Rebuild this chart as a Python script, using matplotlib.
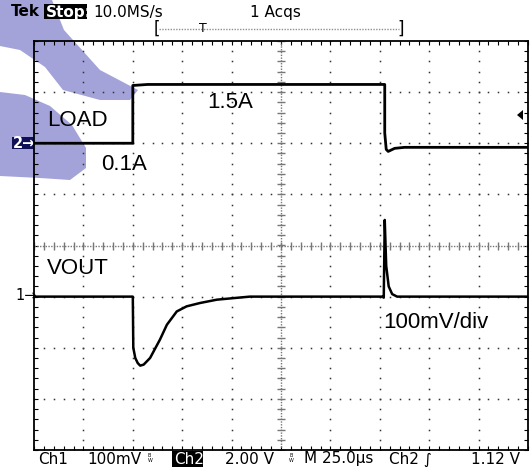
import numpy as np
import matplotlib.pyplot as plt
from matplotlib.patches import Polygon, Rectangle

W, H = 530, 469

# traces, in divisions (10 x 8, vertical centre = 0)
load_t = [0.0, 2.0, 2.0, 2.3, 7.1, 7.1, 7.13, 7.17, 7.3, 7.5, 10.0]
load_y = [2.0, 2.0, 3.13, 3.15, 3.15, 2.2, 1.88, 1.84, 1.9, 1.92, 1.92]

vout_t = [0.0, 2.0, 2.01, 2.05, 2.1, 2.15, 2.22, 2.35, 2.55, 2.69, 2.89, 3.09,
          3.36, 3.70, 4.03, 4.37, 7.05, 7.08, 7.1, 7.13, 7.18, 7.25, 7.35, 10.0]
vout_y = [-1.0, -1.0, -2.0, -2.2, -2.3, -2.35, -2.33, -2.2, -1.84, -1.55, -1.29, -1.19,
          -1.125, -1.06, -1.03, -1.0, -1.0, -1.02, 0.5, -0.4, -0.8, -0.95, -1.0, -1.0]

labels = ['LOAD', '1.5A', '0.1A', 'VOUT', '100mV/div']
footer = ['Ch1', '100mV', 'Ch2', '2.00 V', 'M 25.0\u00b5s', 'Ch2 \u222b', '1.12 V']

purple = '#a3a3d9'

fig = plt.figure(figsize=(5.30, 4.69), dpi=100)
fig.patch.set_facecolor('white')

# background layer in pixel coords: watermark + screen annotations
bg = fig.add_axes([0, 0, 1, 1], zorder=-1)
bg.set_xlim(0, W)
bg.set_ylim(H, 0)
bg.axis('off')

# watermark swoosh
bg.add_patch(Polygon([(0, 0), (52, 0), (64, 30), (100, 70), (138, 90), (130, 100),
                      (100, 100), (63, 90), (45, 67), (20, 50), (0, 46)],
                     closed=True, color=purple, lw=0))
bg.add_patch(Polygon([(0, 92), (25, 95), (50, 106), (72, 125), (86, 148), (86, 168),
                      (70, 180), (40, 178), (0, 176)],
                     closed=True, color=purple, lw=0))

# header
bg.text(11, 12, 'Tek', fontsize=11, fontweight='bold', va='center', ha='left')
bg.add_patch(Rectangle((44, 4), 43, 15, color='black', lw=0))
bg.text(46, 12, 'Stop:', fontsize=11, fontweight='bold', color='white', va='center', ha='left')
bg.text(93, 12, '10.0MS/s', fontsize=11, va='center', ha='left')
bg.text(250, 12, '1 Acqs', fontsize=11, va='center', ha='left')
bg.plot([159, 399], [29, 29], color='#909090', lw=1, ls=(0, (1, 1)))
bg.text(157, 29, '[', fontsize=12, va='center', ha='center')
bg.text(203, 29, 'T', fontsize=9, va='center', ha='center')
bg.text(401, 29, ']', fontsize=12, va='center', ha='center')

# footer
bg.text(38, 459, footer[0], fontsize=11, va='center', ha='left')
bg.text(87, 459, footer[1], fontsize=11, va='center', ha='left')
bg.text(148, 458, 'B\nW', fontsize=3.5, va='center', ha='left', linespacing=0.9)
bg.add_patch(Rectangle((172, 451), 31, 16, color='black', lw=0))
bg.text(174, 459, footer[2], fontsize=11, color='white', va='center', ha='left')
bg.text(225, 459, footer[3], fontsize=11, va='center', ha='left')
bg.text(289, 458, 'B\nW', fontsize=3.5, va='center', ha='left', linespacing=0.9)
bg.text(304, 459, footer[4], fontsize=11, va='center', ha='left')
bg.text(389, 459, footer[5], fontsize=11, va='center', ha='left')
bg.text(520, 459, footer[6], fontsize=11, va='center', ha='right')

# channel markers
bg.add_patch(Rectangle((12, 137), 22, 12, color='#10105a', lw=0))
bg.text(13, 143, '2\u2192', fontsize=10.5, color='white', va='center', ha='left', fontweight='bold')
bg.text(15, 296, '1\u2192', fontsize=10.5, va='center', ha='left')
bg.add_patch(Polygon([(517, 115), (523, 110), (523, 120)], closed=True, color='black', lw=0))

# annotations
for s, (x, y) in zip(labels, [(47, 121), (207, 103), (101, 164), (47, 269), (383, 323)]):
    bg.text(x, y, s, fontsize=16, family='Liberation Sans', va='center', ha='left')

# graticule
ax = fig.add_axes([34 / W, 1 - 450 / H, (528 - 34) / W, (450 - 41) / H])
ax.set_facecolor('none')
ax.set_xlim(0, 10)
ax.set_ylim(-4, 4)
for sp in ax.spines.values():
    sp.set_linewidth(1.3)
ax.set_xticks(np.arange(0, 10.01, 1))
ax.set_yticks(np.arange(-4, 4.01, 1))
ax.set_xticks(np.arange(0, 10.01, 0.2), minor=True)
ax.set_yticks(np.arange(-4, 4.01, 0.2), minor=True)
ax.tick_params(which='both', direction='in', length=3, width=0.8,
               top=True, right=True, labelbottom=False, labelleft=False)

minor_y = np.arange(-4, 4.01, 0.2)
minor_x = np.arange(0, 10.01, 0.2)
for gx in range(1, 10):
    if gx == 5:
        continue
    ax.plot([gx] * len(minor_y), minor_y, ls='none', marker='s', ms=1.1, mew=0, color='#333333')
for gy in range(-3, 4):
    if gy == 0:
        continue
    ax.plot(minor_x, [gy] * len(minor_x), ls='none', marker='s', ms=1.1, mew=0, color='#333333')

ax.axhline(0, color='#777777', lw=1, ls=(0, (1, 1)))
ax.axvline(5, color='#777777', lw=1, ls=(0, (1, 1)))
ax.plot(minor_x, [0] * len(minor_x), ls='none', marker='|', ms=6, mew=1, color='#777777')
ax.plot([5] * len(minor_y), minor_y, ls='none', marker='_', ms=6, mew=1, color='#777777')

# traces
ax.plot(load_t, load_y, color='black', lw=2)
ax.plot(vout_t, vout_y, color='black', lw=1.8)

fig.savefig('out.png', dpi=100)
